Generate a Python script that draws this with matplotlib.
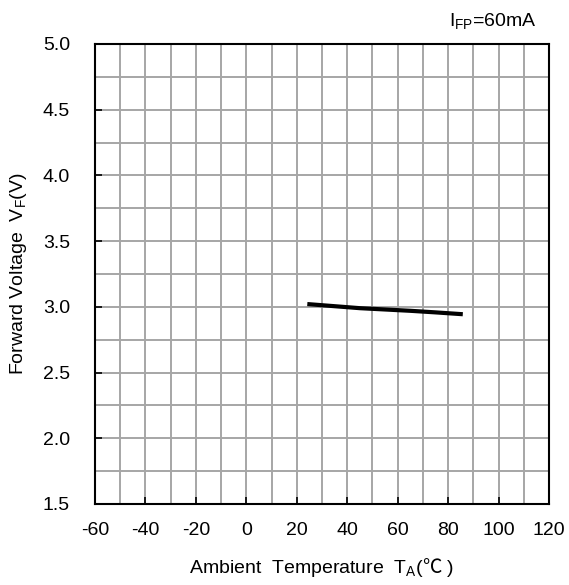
import numpy as np
import matplotlib
matplotlib.use('Agg')
from matplotlib import pyplot as plt

plt.rcParams['font.family'] = ['Liberation Sans', 'DejaVu Sans', 'Noto Sans CJK SC']
plt.rcParams['mathtext.fontset'] = 'custom'
plt.rcParams['mathtext.rm'] = 'Liberation Sans'
plt.rcParams['mathtext.sf'] = 'Noto Sans CJK SC'
plt.rcParams['mathtext.default'] = 'regular'
plt.rcParams['axes.unicode_minus'] = False

# data
temp = [25, 35, 45, 55, 65, 75, 85]
vf = [3.02, 3.005, 2.99, 2.98, 2.97, 2.958, 2.945]

x_ticks = [-60, -40, -20, 0, 20, 40, 60, 80, 100, 120]
y_ticks = [1.5, 2.0, 2.5, 3.0, 3.5, 4.0, 4.5, 5.0]

fig = plt.figure(figsize=(5.69, 5.85), dpi=100)
ax = fig.add_axes([95 / 569, 81 / 585, 454 / 569, 460 / 585])

# grid: every 10 degC and every 0.25 V
ax.set_xticks(np.arange(-60, 121, 10), minor=True)
ax.set_yticks(np.arange(1.5, 5.01, 0.25), minor=True)
ax.grid(True, which='both', color='#a6a6a6', linewidth=1.4)
ax.set_axisbelow(True)

ax.plot(temp, vf, color='black', linewidth=3, solid_capstyle='projecting')

ax.set_xlim(-60, 120)
ax.set_ylim(1.5, 5.0)
ax.set_xticks(x_ticks)
ax.set_yticks(y_ticks)
ax.set_yticklabels(['%.1f' % v for v in y_ticks])
ax.tick_params(which='major', direction='in', length=5, width=1.2, labelsize=14)
ax.tick_params(axis='y', pad=18)
ax.tick_params(axis='x', pad=13)
ax.tick_params(which='minor', length=0)
for s in ax.spines.values():
    s.set_linewidth(1.5)
    s.set_color('black')

# text for the axes
ax.set_xlabel(r'Ambient  Temperature  $T_A$($\mathsf{℃}$ )', fontsize=14, labelpad=12)
ax.set_ylabel(r'Forward Voltage  $V_F$(V)', fontsize=14, labelpad=10)
fig.text(537 / 569, 1 - 21 / 585, r'$I_{FP}$=60mA', fontsize=14, ha='right', va='center')

fig.savefig('out.png', dpi=100)
